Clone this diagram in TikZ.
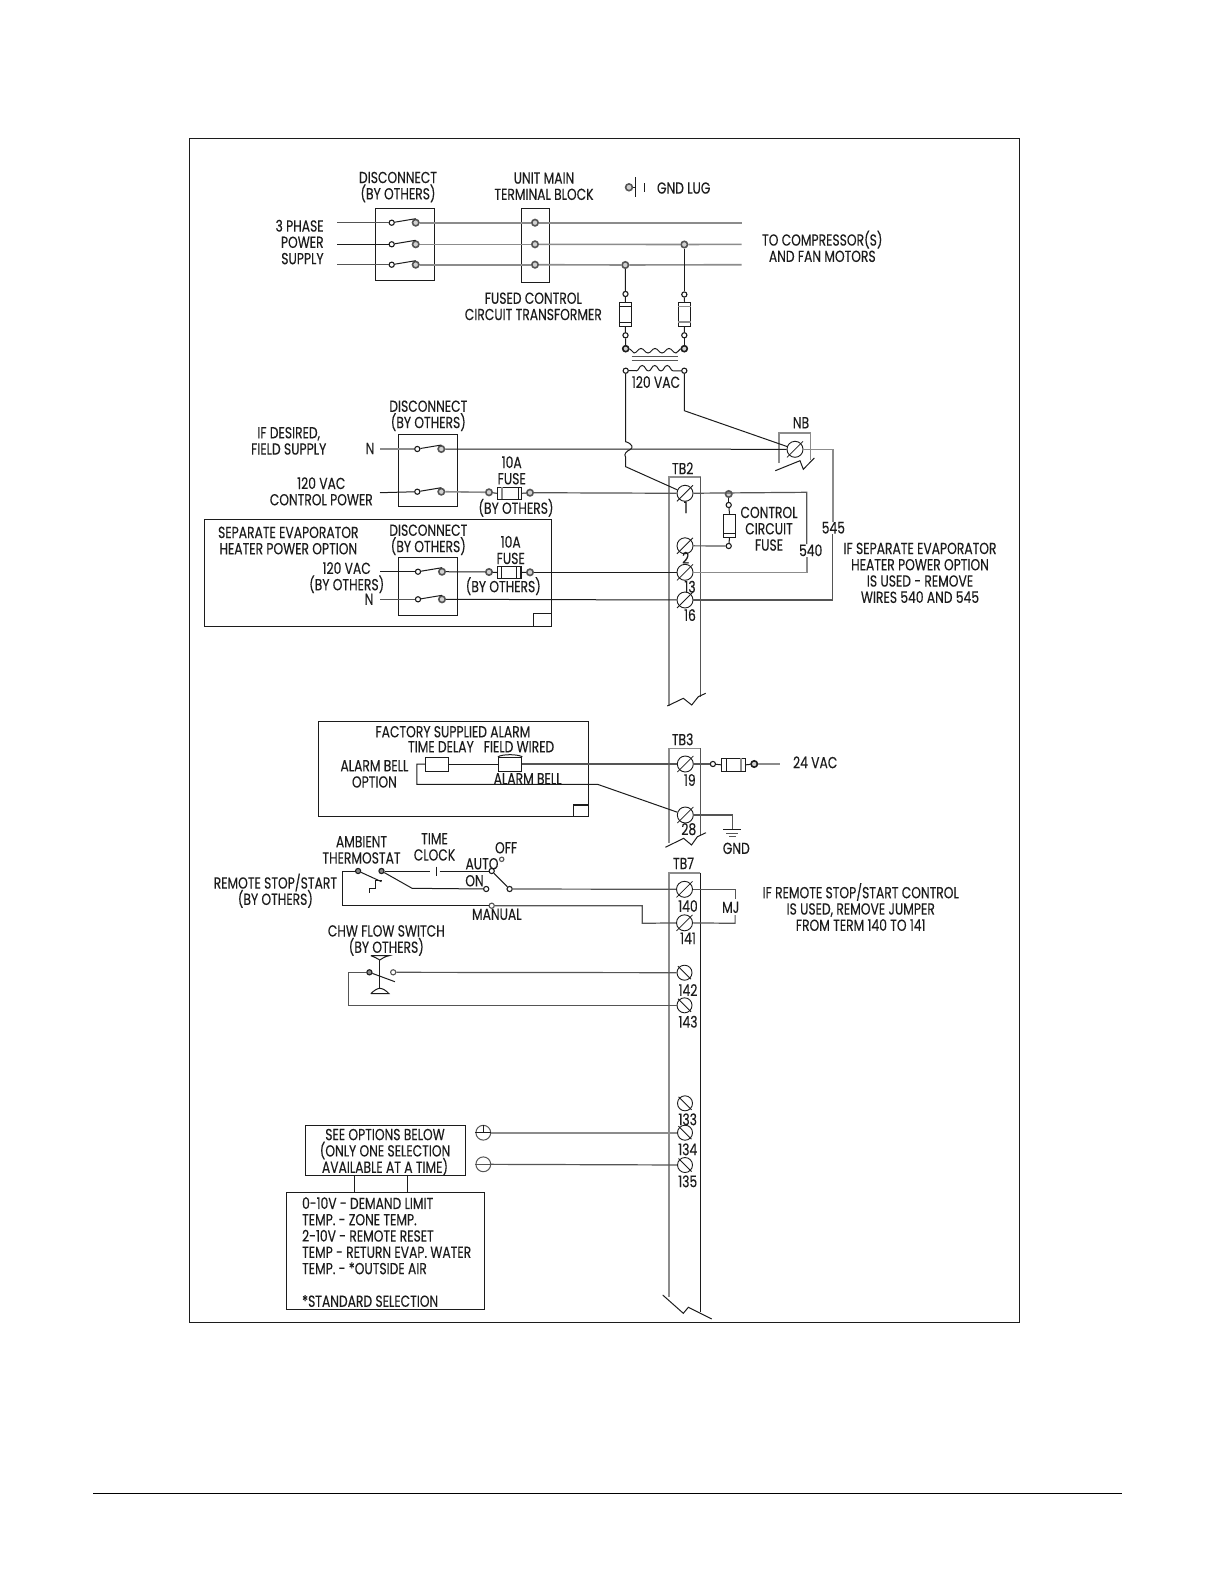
\documentclass[tikz,border=0pt]{standalone}
\usepackage{fontspec}
\setmainfont[FakeStretch=0.77,FakeBold=0.18]{Poppins}
\usetikzlibrary{calc}
\definecolor{ink}{HTML}{1C1C1C}
\definecolor{gw}{HTML}{8C8C8C}
\definecolor{mw}{HTML}{555555}
\AtBeginDocument{\lineskiplimit=-20pt\relax}
\tikzset{
  lb/.style={inner sep=0pt,align=center,text=ink,text depth=0pt,font=\fontsize{8}{8.15}\selectfont},
  lbl/.style={lb,align=left,anchor=west},
  lbr/.style={lb,align=right,anchor=east},
  wire/.style={draw=ink,line width=0.5pt,line join=miter},
  gwire/.style={draw=gw,line width=0.8pt},
  mwire/.style={draw=mw,line width=0.6pt},
  box/.style={draw=ink,line width=0.55pt},
  ct/.style={circle,draw=ink,fill=white,line width=0.55pt,inner sep=0pt,minimum size=2.6pt},
  ctb/.style={ct,draw=mw,fill=gw!40,line width=0.8pt,minimum size=3.2pt},
  scr/.style={circle,draw=ink,line width=0.45pt,inner sep=0pt,minimum size=8pt},
}
\newcommand{\screw}[3]{\node[scr] (#1) at (#2,#3) {};
  \draw[draw=ink,line width=0.4pt] ($(#1)+(-8,8)$) -- ($(#1)+(8,-8)$);}
\newcommand{\screwb}[3]{\node[scr,minimum size=7.5pt] (#1) at (#2,#3) {};
  \draw[draw=ink,line width=0.4pt] ($(#1)+(-6.5,-6.5)$) -- ($(#1)+(6.5,6.5)$);}
\begin{document}
\begin{tikzpicture}[x=0.5pt,y=-0.5pt]
\useasboundingbox (0,0) rectangle (1224,1584);
\fill[white] (0,0) rectangle (1224,1584);
% frame and footer rule
\draw[draw=ink,line width=0.6pt] (189.3,138.3) rectangle (1019.3,1322.3);
\draw[draw=black,line width=0.7pt] (93,1493.3) -- (1122.3,1493.3);

% ---- 3 phase section
\node[lbr] (ph) at (324,242) {3 PHASE\\POWER\\SUPPLY};
\node[lb] (dl1) at (398,185.6) {DISCONNECT\\(BY OTHERS)};
\node[lb] (um) at (544,186.2) {UNIT MAIN\\TERMINAL BLOCK};
\draw[box] (375.3,208.3) rectangle (434.3,280.3);
\draw[box] (521.3,208.3) rectangle (549.3,282.3);
\coordinate (l1) at (337,222.7); \coordinate (l2) at (337,244.3); \coordinate (l3) at (337,264.7);
\coordinate (r1) at (741.7,222.7); \coordinate (r2) at (741.7,244.3); \coordinate (r3) at (741.7,264.7);
\node[ct] (a1) at (391.7,222.7) {}; \node[ctb] (b1) at (415.7,222.7) {};
\node[ct] (a2) at (391.7,244.3) {}; \node[ctb] (b2) at (415.7,244.3) {};
\node[ct] (a3) at (391.7,264.7) {}; \node[ctb] (b3) at (415.7,264.7) {};
\node[ctb] (t1) at (535,222.7) {}; \node[ctb] (t2) at (535,244.3) {}; \node[ctb] (t3) at (535,264.7) {};
\node[ctb] (j2) at (684.3,244.5) {}; \node[ctb] (j3) at (625.3,265) {};
\draw[mwire] (l1) -- (a1); \draw[wire] (l2) -- (a2); \draw[mwire] (l3) -- (a3);
\foreach \i in {1,2,3} {\draw[wire] (a\i) -- (b\i.north);}
\draw[gwire] (b1) -- (t1); \draw[gwire] (b2) -- (t2); \draw[gwire] (b3) -- (t3);
\draw[gwire] (t1) -- (r1); \draw[gwire] (t2) -- (j2); \draw[gwire] (j2) -- (r2);
\draw[gwire] (t3) -- (j3); \draw[gwire] (j3) -- (r3);
% gnd lug
\node[ctb,minimum size=3.4pt] (lug) at (629,187.3) {};
\coordinate (lugb) at (635.3,187.3);
\draw[wire] (lug) -- (lugb);
\draw[wire] (635.3,177.3) -- (635.3,196.7);
\draw[wire] (644,183.3) -- (644,191.7);
\node[lb] (gl) at (683.7,188) {GND LUG};
\node[lb] (toc) at (822.3,246.3) {TO COMPRESSOR(S)\\AND FAN MOTORS};
\node[lb] (fc) at (533.3,306.3) {FUSED CONTROL\\CIRCUIT TRANSFORMER};
% fused transformer
\node[ct] (f1t) at (625.5,294) {}; \node[ct] (f1b) at (625.5,335.3) {};
\node[ct] (f2t) at (684.3,294.5) {}; \node[ct] (f2b) at (684.3,335.3) {};
\node[box,minimum width=6pt,minimum height=12pt,inner sep=0pt] (f1) at (625.3,314.3) {};
\node[box,minimum width=6.2pt,minimum height=12pt,inner sep=0pt] (f2) at (684.5,314.3) {};
\draw[wire] (f1.west|-0,306.5) -- (f1.east|-0,306.5);
\draw[wire] (f1.west|-0,322) -- (f1.east|-0,322);
\draw[gwire] (f2.west|-0,306.5) -- (f2.east|-0,306.5);
\draw[gwire] (f2.west|-0,322) -- (f2.east|-0,322);
\node[ctb,draw=ink,minimum size=3pt] (p1) at (625.7,348.7) {};
\node[ctb,draw=ink,minimum size=3pt] (p2) at (684.3,348.7) {};
\node[ct] (s1) at (625.7,370.7) {}; \node[ct] (s2) at (684.3,370.7) {};
\draw[wire] (j3) -- (f1t); \draw[wire] (j2) -- (f2t);
\draw[wire] (f1t) -- (f1.north); \draw[wire] (f2t) -- (f2.north);
\draw[wire] (f1.south) -- (f1b); \draw[wire] (f2.south) -- (f2b);
\draw[wire] (f1b) -- (p1); \draw[wire] (f2b) -- (p2);
% coils
\draw[wire] (p1) .. controls (630,349) and (631,350) .. (634,353);
\foreach \xx in {634,648,662} {
  \draw[wire] (\xx,353) .. controls (\xx+3,353) and (\xx+4,348.5) .. (\xx+7,348.5)
                        .. controls (\xx+10,348.5) and (\xx+11,353) .. (\xx+14,353);}
\draw[wire] (676,353) .. controls (678,352) and (680,349) .. (p2);
\draw[wire] (s1) -- (636,370.5);
\foreach \xx in {636,648.5,661} {
  \draw[wire] (\xx,371) .. controls (\xx+3,371) and (\xx+3,365.5) .. (\xx+6.2,365.5)
                        .. controls (\xx+9.4,365.5) and (\xx+9.4,371) .. (\xx+12.5,371);}
\draw[wire] (673.5,371) -- (s2);
\draw[mwire] (631.7,356.7) -- (678.3,356.7);
\draw[mwire] (631.7,360.7) -- (678.3,360.7);
\node[lb] (v120) at (656,382) {120 VAC};

% ---- field supply
\node[lb] (dl2) at (428.3,414.3) {DISCONNECT\\(BY OTHERS)};
\draw[box] (398.3,434.3) rectangle (457.7,506.7);
\node[lb] (ifd) at (288.7,440.8) {IF DESIRED,\\FIELD SUPPLY};
\node[lb] (n1) at (370,448.5) {N};
\node[lb] (cp) at (321.3,491.3) {120 VAC\\CONTROL POWER};
\coordinate (nl) at (380,449); \coordinate (cl) at (380,492.7);
\node[ct] (c1a) at (417.3,449) {}; \node[ctb] (c1b) at (441.3,449) {};
\node[ct] (c2a) at (417.3,491.7) {}; \node[ctb] (c2b) at (441.3,491.7) {};
\draw[gwire] (nl) -- (c1a); \draw[wire] (cl) -- (c2a);
\draw[wire] (c1a) -- (c1b.north); \draw[wire] (c2a) -- (c2b.north);
\node[ctb] (c3) at (489,492.3) {}; \node[ctb] (c4) at (530,492.7) {};
\node[box,minimum width=12.2pt,minimum height=6pt,inner sep=0pt] (fu1) at (509.5,493.3) {};
\draw[gwire] (501.7,487.3) -- (501.7,499.3);
\draw[wire] (518,487.3) -- (518,499.3);
\draw[gwire] (c2b) -- (c3); \draw[wire] (c3) -- (fu1.west); \draw[wire] (fu1.east) -- (c4);
\node[lb] (fs1) at (511.7,470.3) {10A\\FUSE};
\node[lb] (bo1) at (516,506.3) {(BY OTHERS)};

% ---- separate evaporator
\draw[box] (204.3,519.3) rectangle (551.7,626.7);
\draw[box] (533.3,613.3) rectangle (551.7,626.7);
\node[lb] (sep) at (288.3,540.5) {SEPARATE EVAPORATOR\\HEATER POWER OPTION};
\node[lb] (dl3) at (428.3,538.3) {DISCONNECT\\(BY OTHERS)};
\draw[box] (398.3,557.3) rectangle (457.7,615.7);
\node[lb] (v3) at (346.7,576.2) {120 VAC\\(BY OTHERS)};
\node[lb] (n3) at (369,599.3) {N};
\coordinate (vl) at (380,571.7); \coordinate (nl3) at (380,599.3);
\node[ct] (d1a) at (418,571.7) {}; \node[ctb] (d1b) at (442,571.7) {};
\node[ct] (d2a) at (418,599.3) {}; \node[ctb] (d2b) at (442,599.3) {};
\draw[wire] (vl) -- (d1a); \draw[mwire] (nl3) -- (d2a);
\draw[wire] (d1a) -- (d1b.north); \draw[wire] (d2a) -- (d2b.north);
\node[ctb] (d3) at (489,572) {}; \node[ctb] (d4) at (530,572.3) {};
\node[box,minimum width=11.8pt,minimum height=5.8pt,inner sep=0pt] (fu2) at (509.2,572.5) {};
\draw[wire] (501.7,566.7) -- (501.7,578.3);
\draw[wire] (516.7,566.7) -- (516.7,578.3);
\draw[wire] (d1b) -- (d3); \draw[wire] (d3) -- (fu2.west); \draw[wire] (fu2.east) -- (d4);
\node[lb] (fs2) at (510.7,550) {10A\\FUSE};
\node[lb] (bo2) at (503.3,584.7) {(BY OTHERS)};

% ---- TB2
\node[lb] (tb2) at (682.7,468.3) {TB2};
\draw[gwire] (669,706) -- (669,476.7) -- (700.5,476.7);
\draw[mwire] (700.5,476.7) -- (700.5,697);
\draw[wire] (667.3,706) -- (683.3,698.3) -- (691.7,705) -- (698.3,696.7) -- (705.7,693.3);
\screw{T1}{685}{493.3}
\screw{T2}{685}{545.8}
\screw{T13}{685}{572.3}
\screw{T16}{685}{600}
\node[lb] (L1) at (685.7,507.3) {1};
\node[lb] (L2) at (685.7,557.7) {2};
\node[lb] (L13) at (690,586.7) {13};
\node[lb] (L16) at (690,615) {16};
% NB
\node[lb] (nb) at (801,422.7) {NB};
\draw[gwire] (778.7,463) -- (778.7,432.7) -- (810.3,432.7) -- (810.3,460);
\draw[wire] (775.3,470.7) -- (800,460.7) -- (803.3,469.3) -- (814.3,458);
\screw{NBt}{795}{449.3}
% wires from transformer
\draw[wire] (s1) -- (625.7,441.7) .. controls (633,444) and (633,448) .. (630.5,449.3)
   .. controls (627,451) and (623,454) .. (625.7,457.3) -- (625.7,466.7) -- (T1);
\draw[wire] (s2) -- (684.3,410.7) -- (NBt);
\draw[wire] (c1b) -- (NBt);
\draw[mwire] (c4) -- (T1);
\draw[wire] (d4) -- (T13);
\draw[wire] (d2b) -- (T16);
% control circuit fuse
\node[ctb] (q1) at (728.7,494) {}; \node[ct] (q2) at (728.7,505) {}; \node[ct] (q3) at (728.7,546) {};
\node[box,minimum width=6.2pt,minimum height=11.5pt,inner sep=0pt] (fu3) at (729.5,525.8) {};
\draw[wire] (723.3,533.3) -- (735.7,533.3);
\draw[wire] (q1) -- (q2); \draw[wire] (q2) -- (fu3.north); \draw[wire] (fu3.south) -- (q3);
\draw[mwire] (T2) -- (q3);
\node[lb] (ccf) at (769,528.7) {CONTROL\\CIRCUIT\\FUSE};
\node[lb] (w540) at (810.7,550.3) {540};
\node[lb] (w545) at (833.3,527.7) {545};
\draw[mwire] (T1) -- (806.7,492.3) -- (w540.north-|806.7,492.3);
\draw[gwire] (T13) -- (806.7,572.3) -- (w540.south-|806.7,572.3);
\draw[gwire] (NBt) -- (832.7,449.3) -- (w545.north-|832.7,449.3);
\draw[mwire] (T16) -- (832.7,600) -- (w545.south-|832.7,600);
\node[lb] (ifs) at (920,572.8) {IF SEPARATE EVAPORATOR\\HEATER POWER OPTION\\IS USED - REMOVE\\WIRES 540 AND 545};

% ---- alarm
\draw[box] (318.3,721.7) rectangle (588.2,816.3);
\draw[box] (573.4,805) rectangle (588.2,816.3);
\node[lb] (fa) at (452.9,731.7) {FACTORY SUPPLIED ALARM};
\node[lb] (td) at (440.9,746.7) {TIME DELAY};
\node[lb] (fw) at (519,746.7) {FIELD WIRED};
\node[lb] (abo) at (374.4,773.8) {ALARM BELL\\OPTION};
\node[lb] (ab) at (527.6,778.7) {ALARM BELL};
\node[box,minimum width=11.7pt,minimum height=7.2pt,inner sep=0pt] (tdb) at (437.1,764.5) {};
\node[box,minimum width=11.7pt,minimum height=7.2pt,inner sep=0pt] (bel) at (510.1,764.5) {};
\draw[wire] (bel.north west) .. controls (503,754) and (517,754) .. (bel.north east);
\node[lb] (tb3) at (682.6,739.3) {TB3};
\draw[gwire] (668.8,843) -- (668.8,748.3) -- (700.5,748.3);
\draw[mwire] (700.5,748.3) -- (700.5,836);
\draw[wire] (665.4,847.3) -- (683.6,838.3) -- (691.5,845) -- (697.4,836.7) -- (706,832.7);
\screw{T19}{685.3}{764}
\screw{T28}{685.3}{815}
\node[lb] (L19) at (689.8,780) {19};
\node[lb] (L28) at (688.8,829) {28};
\coordinate (al) at (416.8,764);
\draw[wire] (tdb.west|-al) -- (al) -- (416.8,784.3) -- (597.5,784.3) -- (T28);
\draw[wire] (tdb.east|-al) -- (bel.west|-al);
\draw[mwire] (bel.east|-al) -- (T19);
\node[ct] (e1) at (712.9,764) {}; \node[ctb,draw=ink] (e2) at (754.2,764) {};
\node[box,minimum width=12pt,minimum height=6.5pt,inner sep=0pt] (fu4) at (733.5,764.8) {};
\draw[wire] (726,758.3) -- (726,771.3); \draw[gwire] (741,758.3) -- (741,771.3);
\coordinate (v24) at (780,764);
\draw[mwire] (T19) -- (e1); \draw[wire] (e1) -- (fu4.west); \draw[wire] (fu4.east) -- (e2);
\draw[gwire] (e2) -- (v24);
\node[lb] (v24t) at (815.2,762.3) {24 VAC};
\coordinate (gt) at (732.5,829);
\draw[mwire] (T28) -- (732.5,815) -- (gt);
\draw[wire] (723.2,829) -- (740.5,829);
\draw[mwire] (726,833.3) -- (738,833.3);
\draw[mwire] (729,836.7) -- (735.5,836.7);
\node[lb] (gnd) at (736.3,848.3) {GND};

% ---- TB7
\node[lb] (tb7) at (683.5,863.3) {TB7};
\draw[gwire] (669,1296.7) -- (669,872.7) -- (700.4,872.7);
\draw[wire] (700.4,872.7) -- (700.4,1311.7);
\draw[wire] (662.7,1295) -- (683.3,1313.3) -- (688.3,1307.3) -- (711.7,1319);
\screw{T140}{684.5}{889.3}
\screw{T141}{684.5}{922.8}
\screwb{T142}{684.5}{972.7}
\screwb{T143}{684.5}{1005.3}
\screwb{T133}{685}{1103.3}
\screwb{T134}{685}{1132.7}
\screwb{T135}{685}{1165}
\node[lb] (L140) at (688,906) {140};
\node[lb] (L141) at (688,938.3) {141};
\node[lb] (L142) at (688,990) {142};
\node[lb] (L143) at (688,1021.7) {143};
\node[lb] (L133) at (687.7,1119.3) {133};
\node[lb] (L134) at (687.7,1149.3) {134};
\node[lb] (L135) at (687.7,1181.3) {135};
\node[lb] (mj) at (730.7,907.3) {MJ};
\draw[mwire] (T140) -- (735.1,889.3) -- (735.1,898.7);
\draw[mwire] (T141) -- (735.1,923.3) -- (735.1,915);
\node[lb] (ifr) at (860.7,907) {IF REMOTE STOP/START CONTROL\\IS USED, REMOVE JUMPER\\FROM TERM 140 TO 141};
% ambient thermostat / time clock / selector
\node[lb] (amb) at (361.5,849.8) {AMBIENT\\THERMOSTAT};
\node[lb] (tcl) at (434.5,846.8) {TIME\\CLOCK};
\node[lb] (off) at (506.1,847.7) {OFF};
\node[lb] (aut) at (482,863.7) {AUTO};
\node[lb] (on) at (474.5,880.7) {ON};
\node[lb] (man) at (496.8,914.3) {MANUAL};
\node[lb] (rem) at (275.4,889.2) {REMOTE STOP/START\\(BY OTHERS)};
\node[ct,fill=gw] (h1) at (358.1,871) {};
\node[ct,fill=gw] (h2) at (381.5,871) {};
\node[ct] (sa) at (491.7,871) {};
\node[ct,draw=mw,minimum size=2.2pt] (so) at (501.7,859.3) {};
\node[ct] (son) at (486.2,889) {};
\node[ct] (sc) at (509.6,889) {};
\node[ct,draw=mw] (sm) at (491.7,905.7) {};
\coordinate (tc1) at (430.4,871); \coordinate (tc2) at (439.7,871);
\draw[wire] (436.2,866.7) -- (436.2,876);
\draw[wire] (h2) -- (tc1); \draw[wire] (tc2) -- (sa);
\draw[wire] (h2) -- (412.1,888.3) -- (son);
\draw[wire] (sa) -- (sc);
\draw[mwire] (sc) -- (T140);
\draw[wire] (h1) -- (381.5,881.7);
\draw[wire] (369.1,892.7) -- (369.1,888.3) -- (375.3,888.3) -- (375.3,880.7) -- (381.5,880.7);
\draw[wire] (h1) -- (342.6,871) -- (342.6,905.7) -- (sm);
\draw[mwire] (sm) -- (642.2,905.7) -- (642.2,923.3) -- (T141);
% flow switch
\node[lb] (chw) at (386.3,939) {CHW FLOW SWITCH\\(BY OTHERS)};
\node[ct,fill=gw] (w1) at (369.4,972.3) {};
\node[ct,draw=mw] (w2) at (393.2,972.3) {};
\draw[wire] (w1) -- (394.9,981.7);
\draw[wire] (379.8,960) -- (379.8,988.3);
\draw[wire] (370.8,955.7) -- (389,955.7) .. controls (385,956.5) and (382,958.5) .. (379.8,960) .. controls (377,958.5) and (374,956.5) .. (370.8,955.7);
\draw[wire] (370.8,993.7) -- (389,993.7) .. controls (386,990.5) and (383,988.5) .. (379.8,988.3) .. controls (377,988.5) and (374,990.5) .. (370.8,993.7);
\draw[mwire] (w2) -- (T142);
\draw[mwire] (w1) -- (348.4,972.3) -- (348.4,1005.3) -- (T143);

% ---- options
\node[box,minimum width=80pt,minimum height=25pt,inner sep=0pt] (op1) at (385.7,1150.3) {};
\node[lb] (op1t) at (385,1150.8) {SEE OPTIONS BELOW\\(ONLY ONE SELECTION\\AVAILABLE AT A TIME)};
\node[box,minimum width=98.8pt,minimum height=58.5pt,inner sep=0pt] (op2) at (385.5,1250.8) {};
\node[lbl] (op2t) at (301.7,1252) {0-10V - DEMAND LIMIT\\TEMP. - ZONE TEMP.\\2-10V - REMOTE RESET\\TEMP - RETURN EVAP. WATER\\TEMP. - *OUTSIDE AIR\\[8.15pt]*STANDARD SELECTION};
\draw[wire] (354.3,1175.3) -- (354.3,1192.3);
\draw[wire] (407.3,1175.3) -- (407.3,1192.3);
\node[circle,draw=mw,line width=0.5pt,inner sep=0pt,minimum size=7.4pt] (pl) at (483.3,1132.7) {};
\node[circle,draw=mw,line width=0.5pt,inner sep=0pt,minimum size=7.4pt] (mi) at (483.3,1164.3) {};
\draw[wire] (pl.west) -- (pl.east);
\draw[wire] (pl.center) -- (pl.north);
\draw[mwire] (mi.west) -- (mi.east);
\draw[gwire] (pl) -- (T134);
\draw[mwire] (mi) -- (T135);
\end{tikzpicture}
\end{document}
